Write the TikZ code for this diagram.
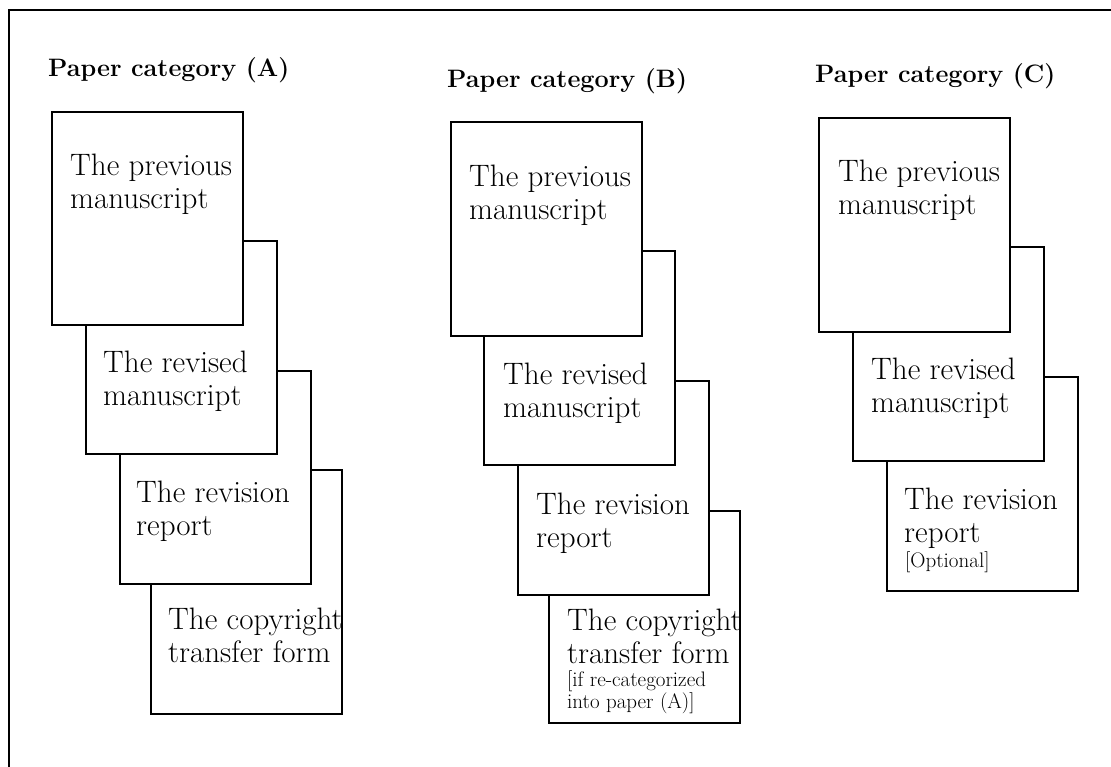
\documentclass[tikz,border=0pt]{standalone}
\usepackage{fontspec}
\begin{document}
\begin{tikzpicture}[x=1pt,y=-1pt,
  frameline/.style={line width=1.5pt},
  sheet/.style={draw, line width=1.4pt, fill=white, inner sep=0pt, outer sep=0pt, anchor=north west, minimum width=191pt},
  txt/.style={anchor=base west, align=left, inner sep=0pt, font=\fontsize{31}{33}\selectfont},
  small/.style={anchor=base west, align=left, inner sep=0pt, font=\fontsize{21}{21.5}\selectfont},
  title/.style={anchor=base west, inner sep=0pt, font=\fontsize{25.2}{28}\selectfont\bfseries}]
\useasboundingbox (0,0) rectangle (1111,767);
\draw[frameline] (9,790) -- (9,10) -- (1130,10);
% Column A
\node[title] (ta) at (48,77) {Paper category (A)};
\node[sheet, minimum height=244pt] (a4) at (151,470) {};
\node[sheet, minimum height=213pt] (a3) at (120,371) {};
\node[sheet, minimum height=213pt] (a2) at (86,241) {};
\node[sheet, minimum height=213pt] (a1) at (52,112) {};
\node[txt] (a1t) at (70,209) {The previous\\manuscript};
\node[txt] (a2t) at (103,405) {The revised\\manuscript};
\node[txt] (a3t) at (136,535) {The revision\\report};
\node[txt] (a4t) at (168,662) {The copyright\\transfer form};
% Column B
\node[title] (tb) at (447,88) {Paper category (B)};
\node[sheet, minimum height=212pt] (b4) at (549,511) {};
\node[sheet, minimum height=214pt] (b3) at (518,381) {};
\node[sheet, minimum height=214pt] (b2) at (484,251) {};
\node[sheet, minimum height=214pt] (b1) at (451,122) {};
\node[txt] (b1t) at (469,220) {The previous\\manuscript};
\node[txt] (b2t) at (503,417) {The revised\\manuscript};
\node[txt] (b3t) at (536,547) {The revision\\report};
\node[txt] (b4t) at (567,663) {The copyright\\transfer form};
\node[small] (b4s) at (567,708) {[if re-categorized\\into paper (A)]};
% Column C
\node[title] (tc) at (815,83) {Paper category (C)};
\node[sheet, minimum height=214pt] (c3) at (887,377) {};
\node[sheet, minimum height=214pt] (c2) at (853,247) {};
\node[sheet, minimum height=214pt] (c1) at (819,118) {};
\node[txt] (c1t) at (838,215) {The previous\\manuscript};
\node[txt] (c2t) at (871,412) {The revised\\manuscript};
\node[txt] (c3t) at (904,542) {The revision\\report};
\node[small] (c3s) at (905,567) {[Optional]};
\end{tikzpicture}
\end{document}
